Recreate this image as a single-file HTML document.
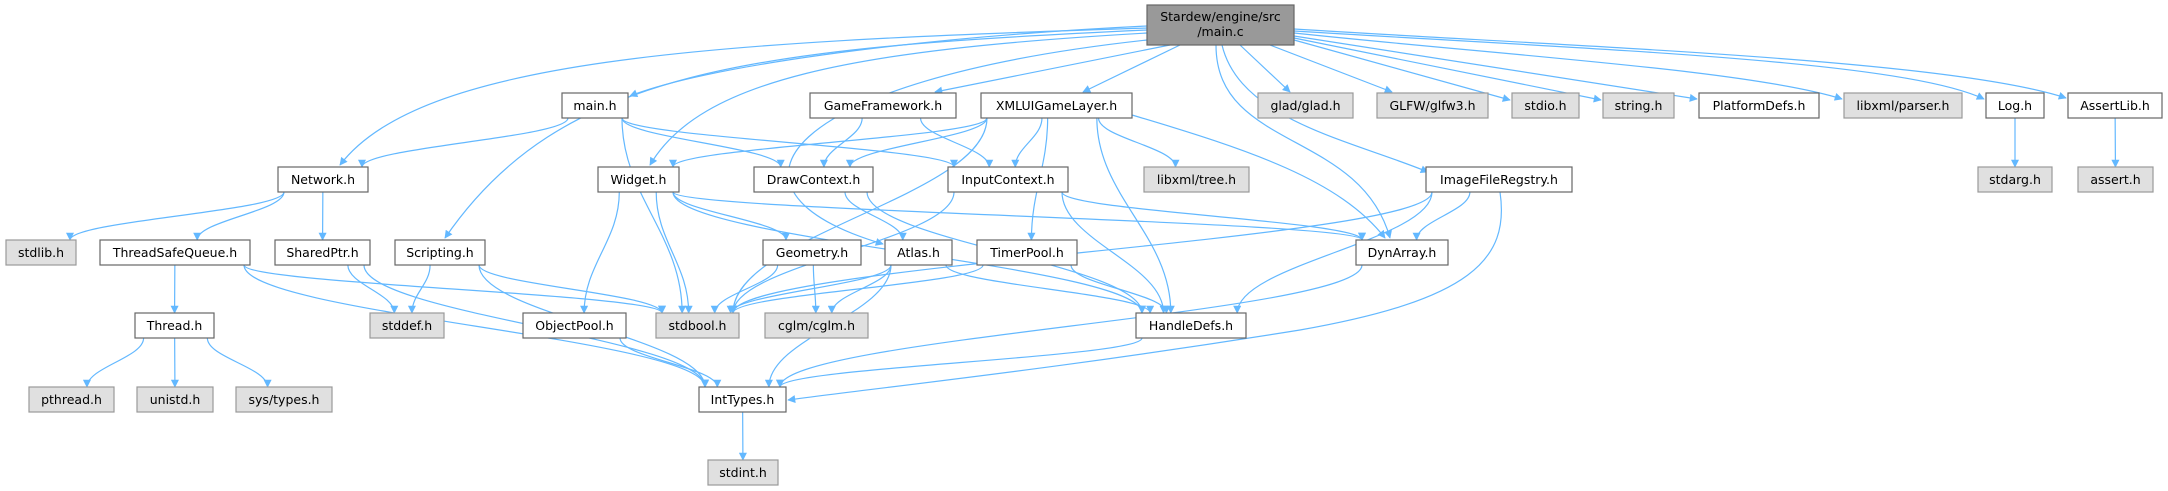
<!DOCTYPE html>
<html><head><meta charset="utf-8"><style>
html,body{margin:0;padding:0;background:#fff;}
svg{display:block}
text{font-family:"DejaVu Sans","Liberation Sans",sans-serif;font-size:12.5px;fill:#000}
</style></head><body>
<svg id="g" width="2168" height="491" xmlns="http://www.w3.org/2000/svg">
<defs><marker id="a" viewBox="0 0 10 10" refX="9" refY="5" markerWidth="10" markerHeight="8" markerUnits="userSpaceOnUse" orient="auto"><path d="M0,0L10,5L0,10z" fill="#63b8ff"/></marker></defs>
<g id="e" fill="none" stroke="#63b8ff" stroke-width="1.2"></g>
<g id="n"></g>
</svg>
<script>
const N={
mainc:[1147,5,1294,45,"Stardew/engine/src|/main.c",2],
mainh:[562,93,628,118,"main.h"],
gf:[810,93,956,118,"GameFramework.h"],
xml:[981,93,1132,118,"XMLUIGameLayer.h"],
glad:[1258,93,1353,118,"glad/glad.h",1],
glfw:[1377,93,1488,118,"GLFW/glfw3.h",1],
stdio:[1512,93,1579,118,"stdio.h",1],
string:[1603,93,1674,118,"string.h",1],
plat:[1699,93,1819,118,"PlatformDefs.h"],
parser:[1844,93,1962,118,"libxml/parser.h",1],
log:[1986,93,2044,118,"Log.h"],
alib:[2068,93,2162,118,"AssertLib.h"],
net:[278,167,368,192,"Network.h"],
widget:[598,167,679,192,"Widget.h"],
draw:[754,167,873,192,"DrawContext.h"],
input:[948,167,1068,192,"InputContext.h"],
tree:[1144,167,1249,192,"libxml/tree.h",1],
img:[1426,167,1572,192,"ImageFileRegstry.h"],
stdarg:[1978,167,2052,192,"stdarg.h",1],
assert:[2078,167,2153,192,"assert.h",1],
stdlib:[6,240,76,265,"stdlib.h",1],
tsq:[100,240,250,265,"ThreadSafeQueue.h"],
sp:[275,240,370,265,"SharedPtr.h"],
scr:[395,240,485,265,"Scripting.h"],
geo:[763,240,861,265,"Geometry.h"],
atlas:[885,240,952,265,"Atlas.h"],
timer:[977,240,1077,265,"TimerPool.h"],
dyn:[1356,240,1448,265,"DynArray.h"],
thread:[135,313,214,338,"Thread.h"],
stddef:[370,313,444,338,"stddef.h",1],
op:[523,313,626,338,"ObjectPool.h"],
bool:[656,313,739,338,"stdbool.h",1],
cglm:[765,313,868,338,"cglm/cglm.h",1],
hd:[1136,313,1246,338,"HandleDefs.h"],
pth:[29,387,114,412,"pthread.h",1],
uni:[137,387,213,412,"unistd.h",1],
sys:[236,387,332,412,"sys/types.h",1],
it:[699,387,786,412,"IntTypes.h"],
sint:[708,460,778,485,"stdint.h",1]};
const SP={
"mainc:mainh":"M1147,26C900,38 700,68 630,96",
"mainc:net":"M1147,28C700,42 420,60 340,165",
"mainc:scr":"M1147,30C750,48 560,70 445,238",
"mainc:widget":"M1147,33C850,50 700,80 650,165",
"mainc:gf":"M1170,45L935,92",
"mainc:xml":"M1180,45L1083,92",
"mainc:atlas":"M1147,40C780,80 700,190 883,244",
"mainc:dyn":"M1216,45C1216,150 1360,130 1390,238",
"mainc:img":"M1222,45C1240,120 1350,140 1428,172",
"mainc:glad":"M1240,45L1290,92",
"mainc:glfw":"M1270,45L1392,92",
"mainc:stdio":"M1294,40L1510,100",
"mainc:string":"M1294,38L1601,100",
"mainc:plat":"M1294,36L1697,99",
"mainc:parser":"M1294,33C1500,55 1750,70 1842,99",
"mainc:log":"M1294,31C1600,50 1900,60 1984,99",
"mainc:alib":"M1294,29C1600,48 1950,60 2066,98",
"xml:dyn":"M1132,115C1250,150 1340,180 1385,238",
"img:it":"M1500,192C1510,260 1470,300 1300,330C1050,370 900,385 788,400"};
const E="mainc:mainh mainc:gf mainc:xml mainc:net mainc:widget mainc:scr mainc:atlas mainc:dyn mainc:img mainc:glad mainc:glfw mainc:stdio mainc:string mainc:plat mainc:parser mainc:log mainc:alib mainh:net mainh:draw mainh:input mainh:bool gf:draw gf:input xml:widget xml:draw xml:input xml:bool xml:timer xml:tree xml:dyn xml:hd net:stdlib net:tsq net:sp widget:op widget:bool widget:geo widget:dyn widget:hd draw:atlas draw:hd input:bool input:dyn input:hd tsq:thread tsq:bool tsq:it sp:stddef sp:it scr:stddef scr:bool scr:it geo:bool geo:cglm atlas:bool atlas:cglm atlas:it atlas:hd timer:bool timer:hd thread:pth thread:uni thread:sys op:it hd:it dyn:it img:bool img:dyn img:hd img:it it:sint log:stdarg alib:assert".split(" ");
const ns="http://www.w3.org/2000/svg";
const eg=document.getElementById("e"),ng=document.getElementById("n");
function cl(v,a,b){return Math.max(a,Math.min(b,v));}
E.forEach(p=>{const [s,t]=p.split(":");const A=N[s],B=N[t];
const acx=(A[0]+A[2])/2,bcx=(B[0]+B[2])/2;
let d=SP[p];
if(!d){
let sx=cl(acx+(bcx-acx)*0.3,A[0]+6,A[2]-6),sy=A[3];
let ex=cl(bcx+(acx-bcx)*0.15,B[0]+6,B[2]-6),ey=B[1];
const dy=ey-sy;d=`M${sx},${sy}C${sx},${sy+dy*0.4} ${ex},${ey-dy*0.4} ${ex},${ey}`;}
const path=document.createElementNS(ns,"path");
path.setAttribute("d",d);path.setAttribute("marker-end","url(#a)");eg.appendChild(path);});
for(const k in N){const [x1,y1,x2,y2,l,ty]=N[k];
const r=document.createElementNS(ns,"rect");r.setAttribute("x",x1);r.setAttribute("y",y1);r.setAttribute("width",x2-x1);r.setAttribute("height",y2-y1);
r.setAttribute("fill",ty==2?"#999999":ty==1?"#e0e0e0":"#ffffff");r.setAttribute("stroke",ty==1?"#999999":"#666666");r.setAttribute("stroke-width","1.2");ng.appendChild(r);
const ls=l.split("|");ls.forEach((s,i)=>{const t=document.createElementNS(ns,"text");t.setAttribute("x",(x1+x2)/2);
t.setAttribute("y",ls.length>1?y1+16+i*15:(y1+y2)/2+4.5);t.setAttribute("text-anchor","middle");t.textContent=s;ng.appendChild(t);});}
</script>
</body></html>
